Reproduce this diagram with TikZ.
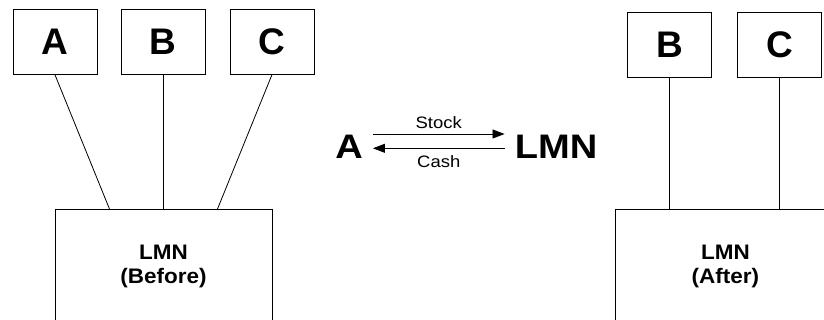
\documentclass[tikz,border=0pt]{standalone}
\usepackage{fontspec}
\setmainfont{Liberation Sans}
\usetikzlibrary{arrows.meta}
\begin{document}
\begin{tikzpicture}[x=1pt,y=-1pt,
  box/.style={draw=black,line width=0.8pt,inner sep=0pt,minimum width=84pt,minimum height=65pt,font=\fontsize{37}{40}\selectfont\bfseries},
  big/.style={draw=black,line width=0.8pt,inner sep=0pt,align=center,font=\fontsize{21}{23.5}\selectfont\bfseries},
  link/.style={line width=0.8pt},
  arr/.style={line width=0.8pt,-{Triangle[length=12pt,width=9pt]}},
  mid/.style={inner sep=0pt,font=\fontsize{34}{38}\selectfont\bfseries},
  lab/.style={inner sep=0pt,font=\fontsize{16.5}{18}\selectfont}]
\useasboundingbox (0,0) rectangle (824,320);
\clip (0,0) rectangle (824,320);
% left group
\node[box] (tA) at (54.9,41.7) {A};
\node[box] (tB) at (163,41.7) {B};
\node[box] (tC) at (272,41.7) {C};
\node[big,minimum width=217pt,minimum height=114pt,anchor=north] (bef) at (163.5,209) {\scalebox{1.07}[1]{LMN}\\\scalebox{1.07}[1]{(Before)}};
\draw[link] (tA.south) -- ([xshift=-54pt]bef.north);
\draw[link] (tB.south) -- (tB.south |- bef.north);
\draw[link] (tC.south) -- ([xshift=54pt]bef.north);
% middle
\node[mid] (mA) at (349,147) {\scalebox{1.12}[1]{A}};
\node[mid] (mL) at (556,147) {\scalebox{1.12}[1]{LMN}};
\draw[arr] ([xshift=10pt,yshift=13pt]mA.east) -- node[lab,yshift=11pt]{\scalebox{1.12}[1]{Stock}} ([xshift=-10pt,yshift=13pt]mL.west);
\draw[arr] ([xshift=-10pt,yshift=-1.3pt]mL.west) -- node[lab,yshift=-13.4pt]{\scalebox{1.12}[1]{Cash}} ([xshift=10pt,yshift=-1.3pt]mA.east);
% right group
\node[box] (rB) at (669.7,44.5) {B};
\node[box] (rC) at (779.7,44.5) {C};
\node[big,minimum width=220pt,minimum height=114pt,anchor=north west] (aft) at (615,209) {\scalebox{1.07}[1]{LMN}\\\scalebox{1.07}[1]{(After)}};
\draw[link] (rB.south) -- (rB.south |- aft.north);
\draw[link] (rC.south) -- (rC.south |- aft.north);
\end{tikzpicture}
\end{document}
